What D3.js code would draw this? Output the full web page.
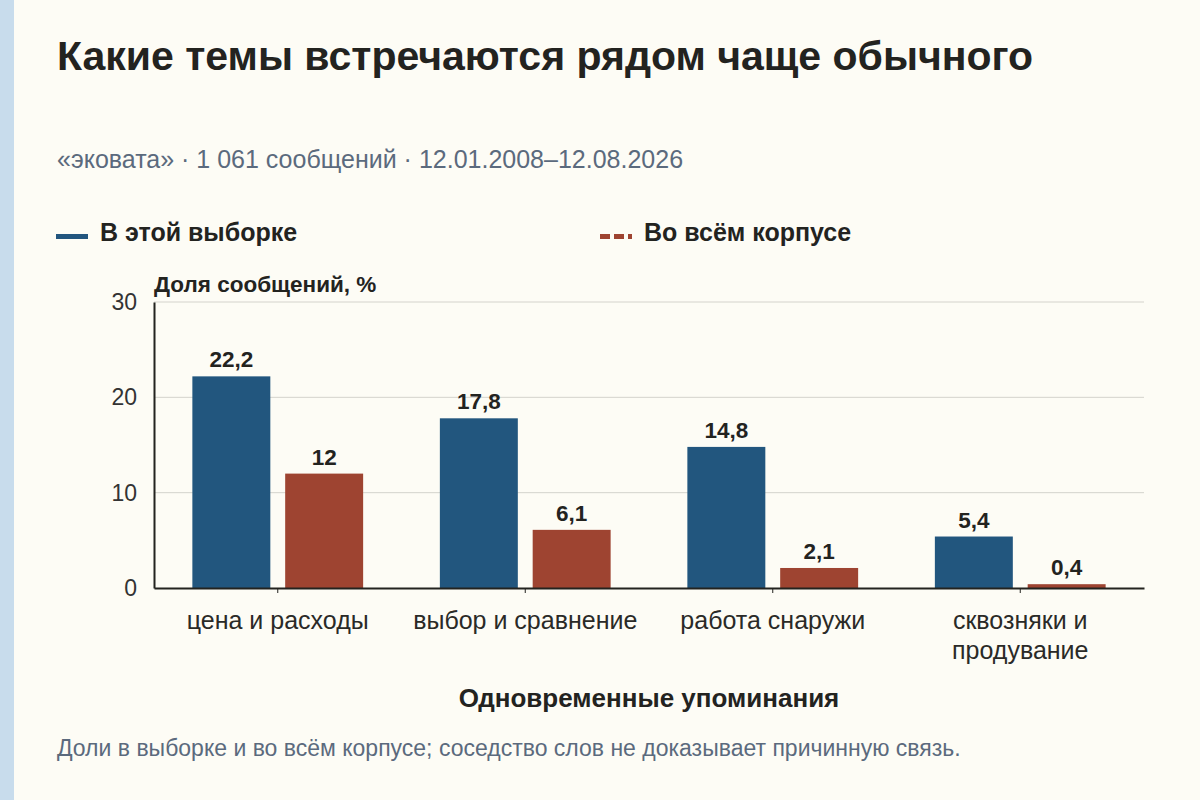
<!DOCTYPE html>
<html><head><meta charset="utf-8">
<script src="https://cdn.jsdelivr.net/npm/d3@7"></script>
<style>
html,body{margin:0;padding:0;background:#fdfcf5;}
svg{display:block;font-family:"Liberation Sans",Arial,sans-serif;}
</style></head>
<body>
<svg id="chart" width="1200" height="800"></svg>
<script>
const categories = ["цена и расходы", "выбор и сравнение", "работа снаружи", "сквозняки и продувание"];
const categoryLines = [["цена и расходы"], ["выбор и сравнение"], ["работа снаружи"], ["сквозняки и", "продувание"]];
const seriesNames = ["В этой выборке", "Во всём корпусе"];
const sampleValues = [22.2, 17.8, 14.8, 5.4];
const corpusValues = [12, 6.1, 2.1, 0.4];
const yTicks = [0, 10, 20, 30];
const colors = ["#22567e", "#9e4431"];

const svg = d3.select("#chart");
svg.append("rect").attr("width",1200).attr("height",800).attr("fill","#fdfcf5");
svg.append("rect").attr("width",14).attr("height",800).attr("fill","#c8dcec");

const mLeft = 154, mRight = 1144, mTop = 302, mBottom = 588;
const x0 = d3.scaleBand().domain(categories).range([mLeft, mRight]).paddingInner(0.31).paddingOuter(0.155);
const x1 = d3.scaleBand().domain(seriesNames).range([0, x0.bandwidth()]).paddingInner(0.16);
const y = d3.scaleLinear().domain([0, 30]).range([mBottom, mTop]);

svg.append("text").attr("x",57).attr("y",70).attr("font-size",41).attr("font-weight","bold").attr("fill","#23231f")
  .text("Какие темы встречаются рядом чаще обычного");
svg.append("text").attr("x",57).attr("y",168).attr("font-size",25).attr("fill","#5b6a7d")
  .text("«эковата» · 1 061 сообщений · 12.01.2008–12.08.2026");

// legend
const legX = [56, 600];
seriesNames.forEach((s,i)=>{
  const g = svg.append("g");
  if(i===0){
    g.append("rect").attr("x",legX[i]).attr("y",234).attr("width",32).attr("height",5).attr("fill",colors[i]);
  } else {
    g.append("line").attr("x1",legX[i]).attr("x2",legX[i]+32).attr("y1",236.5).attr("y2",236.5)
      .attr("stroke",colors[i]).attr("stroke-width",5).attr("stroke-dasharray","10,4");
  }
  g.append("text").attr("x",legX[i]+44).attr("y",241).attr("font-size",25).attr("font-weight","bold").attr("fill","#23231f").text(s);
});

// grid
svg.append("g").selectAll("line").data(yTicks.filter(d=>d>0)).join("line")
  .attr("x1",mLeft).attr("x2",mRight).attr("y1",d=>y(d)).attr("y2",d=>y(d))
  .attr("stroke","#d4d3cc").attr("stroke-width",1);

// y axis
const yAxis = svg.append("g").attr("transform",`translate(${mLeft},0)`)
  .call(d3.axisLeft(y).tickValues(yTicks).tickSize(0).tickPadding(17).tickFormat(d3.format("d")));
yAxis.select(".domain").attr("stroke","#23231f").attr("stroke-width",2);
yAxis.selectAll("text").attr("font-size",23).attr("fill","#333").attr("font-family","Liberation Sans, Arial, sans-serif");

svg.append("text").attr("x",154).attr("y",292).attr("font-size",22.5).attr("font-weight","bold").attr("fill","#23231f")
  .text("Доля сообщений, %");

// bars
const data = categories.map((c,i)=>({cat:c, vals:[sampleValues[i], corpusValues[i]]}));
const groups = svg.append("g").selectAll("g").data(data).join("g")
  .attr("transform",d=>`translate(${x0(d.cat)},0)`);
groups.selectAll("rect").data(d=>d.vals.map((v,i)=>({s:seriesNames[i], v, i}))).join("rect")
  .attr("x",d=>x1(d.s)).attr("width",x1.bandwidth())
  .attr("y",d=>y(d.v)).attr("height",d=>y(0)-y(d.v)).attr("fill",d=>colors[d.i]);
const fmt = v => String(v).replace(".", ",");
groups.selectAll("text").data(d=>d.vals.map((v,i)=>({s:seriesNames[i], v, i}))).join("text")
  .attr("x",d=>x1(d.s)+x1.bandwidth()/2).attr("y",d=>y(d.v)-9)
  .attr("text-anchor","middle").attr("font-size",22.5).attr("font-weight","bold").attr("fill","#23231f")
  .text(d=>fmt(d.v));

// x axis
const xAxis = svg.append("g").attr("transform",`translate(0,${mBottom})`)
  .call(d3.axisBottom(x0).tickSize(5).tickSizeOuter(0).tickFormat(""));
xAxis.select(".domain").attr("stroke","#23231f").attr("stroke-width",2);
xAxis.selectAll(".tick line").attr("stroke","#23231f");

const labels = svg.append("g").selectAll("text").data(categories).join("text")
  .attr("x",d=>x0(d)+x0.bandwidth()/2).attr("y",629)
  .attr("text-anchor","middle").attr("font-size",25).attr("fill","#2a2a27");
labels.each(function(d,i){
  d3.select(this).selectAll("tspan").data(categoryLines[i]).join("tspan")
    .attr("x",x0(d)+x0.bandwidth()/2).attr("dy",(t,j)=>j===0?0:30).text(t=>t);
});

svg.append("text").attr("x",(mLeft+mRight)/2).attr("y",707).attr("text-anchor","middle")
  .attr("font-size",26).attr("font-weight","bold").attr("fill","#23231f").text("Одновременные упоминания");

svg.append("text").attr("x",57).attr("y",756).attr("font-size",23).attr("fill","#5b6a7d")
  .text("Доли в выборке и во всём корпусе; соседство слов не доказывает причинную связь.");
</script>
</body></html>
